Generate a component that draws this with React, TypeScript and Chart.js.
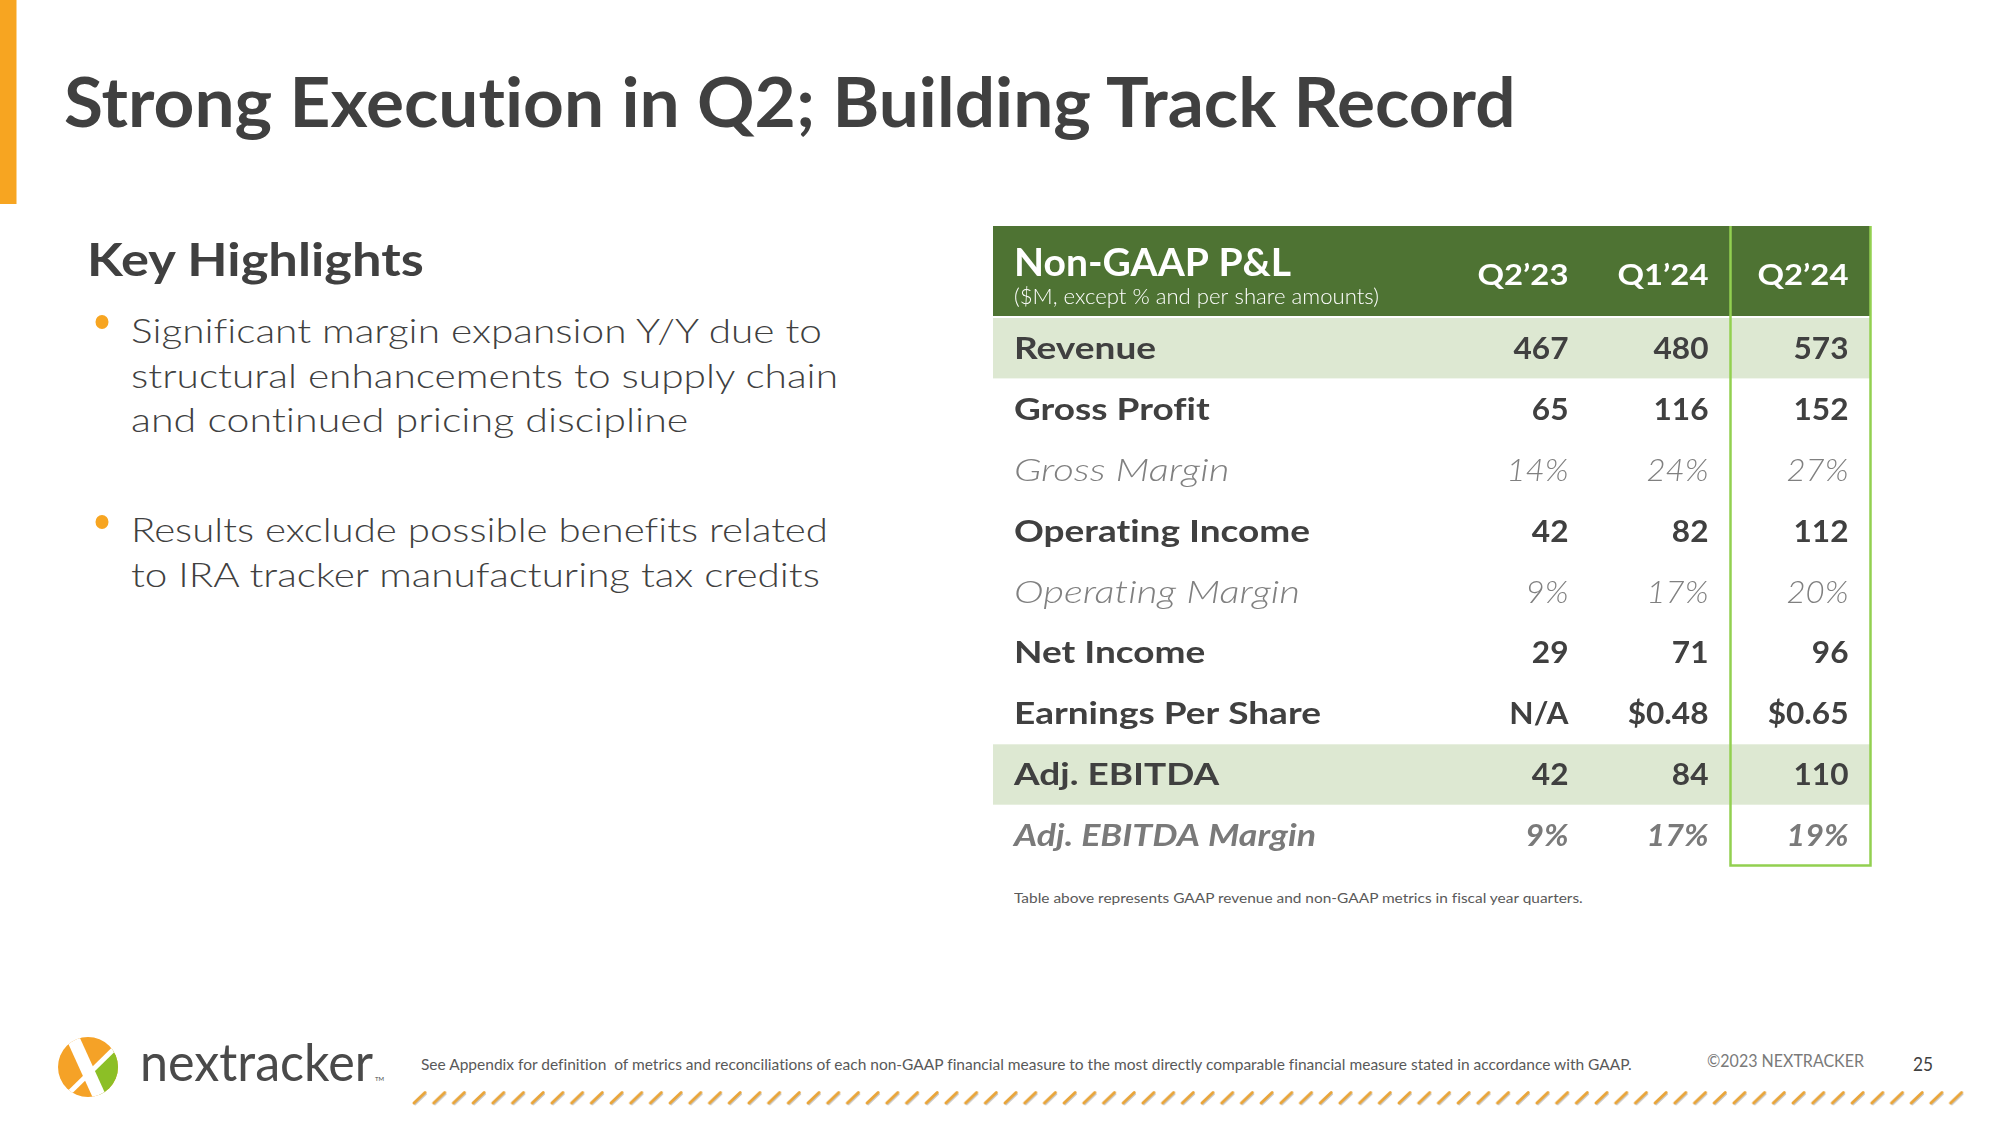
import React, { useEffect, useRef } from "react";
import { Chart, registerables } from "chart.js";

Chart.register(...registerables);

const FONT = 'Lato, "Open Sans", "DejaVu Sans", sans-serif';

// ---------- slide text ----------
const titleText = "Strong Execution in Q2; Building Track Record";
const highlightsHeading = "Key Highlights";
const bullet1Lines = [
  "Significant margin expansion Y/Y due to",
  "structural enhancements to supply chain",
  "and continued pricing discipline",
];
const bullet2Lines = [
  "Results exclude possible benefits related",
  "to IRA tracker manufacturing tax credits",
];
const tableTitle = "Non-GAAP P&L";
const tableSubtitle = "($M, except % and per share amounts)";
const footnoteText = "Table above represents GAAP revenue and non-GAAP metrics in fiscal year quarters.";
const disclaimerText =
  "See Appendix for definition  of metrics and reconciliations of each non-GAAP financial measure to the most directly comparable financial measure stated in accordance with GAAP.";
const copyrightText = "©2023 NEXTRACKER";
const pageNumber = "25";
const brandName = "nextracker";

// ---------- table data ----------
const quarters = ["Q2’23", "Q1’24", "Q2’24"];
const metrics = [
  "Revenue",
  "Gross Profit",
  "Gross Margin",
  "Operating Income",
  "Operating Margin",
  "Net Income",
  "Earnings Per Share",
  "Adj. EBITDA",
  "Adj. EBITDA Margin",
];
const metricKinds = ["num", "num", "pct", "num", "pct", "num", "eps", "num", "pct"];
const metricStyles = ["bold", "bold", "light", "bold", "light", "bold", "bold", "bold", "boldItalic"];
const shadedMetrics = ["Revenue", "Adj. EBITDA"];
const valuesQ223 = [467, 65, 14, 42, 9, 29, null, 42, 9];
const valuesQ124 = [480, 116, 24, 82, 17, 71, 0.48, 84, 17];
const valuesQ224 = [573, 152, 27, 112, 20, 96, 0.65, 110, 19];
const quarterValues = [valuesQ223, valuesQ124, valuesQ224];

// ---------- colours ----------
const DARK = "#404040";
const ORANGE = "#f7a521";
const HEADER_GREEN = "#4e7333";
const ROW_GREEN = "#dde8d2";
const BORDER_GREEN = "#92d050";

const CELL_STYLES: Record<string, any> = {
  bold: {
    font: `normal 700 31px ${FONT}`,
    color: DARK,
    labelSample: "Operating Income",
    labelWidth: 296,
    valueSample: "480",
    valueWidth: 55,
  },
  light: {
    font: `italic 300 31px ${FONT}`,
    color: "#808080",
    labelSample: "Operating Margin",
    labelWidth: 286,
    valueSample: "24%",
    valueWidth: 62,
  },
  boldItalic: {
    font: `italic 700 31px ${FONT}`,
    color: "#7a7a7a",
    labelSample: "Adj. EBITDA Margin",
    labelWidth: 302,
    valueSample: "17%",
    valueWidth: 62,
  },
};

function formatValue(v: number | null, kind: string) {
  if (v === null || v === undefined) return "N/A";
  if (kind === "pct") return `${v}%`;
  if (kind === "eps") return `$${v.toFixed(2)}`;
  return String(v);
}

let measureCtx: CanvasRenderingContext2D | null = null;
function measureText(font: string, text: string) {
  if (!measureCtx) measureCtx = document.createElement("canvas").getContext("2d");
  measureCtx!.font = font;
  const m = measureCtx!.measureText(text);
  return { w: m.width, asc: (m as any).fontBoundingBoxAscent, desc: (m as any).fontBoundingBoxDescent };
}

function Txt(props: {
  text: string;
  x: number;
  baseline: number;
  size: number;
  weight?: number;
  italic?: boolean;
  color?: string;
  width?: number;
}) {
  const { text, x, baseline, size, weight = 400, italic = false, color = DARK, width } = props;
  const font = `${italic ? "italic" : "normal"} ${weight} ${size}px ${FONT}`;
  const m = measureText(font, text);
  const asc = m.asc || size * 0.987;
  const desc = m.desc || size * 0.213;
  const sx = width && m.w ? width / m.w : 1;
  return (
    <div
      style={{
        position: "absolute",
        left: x,
        top: baseline - asc,
        fontFamily: FONT,
        fontSize: size,
        fontWeight: weight,
        fontStyle: italic ? "italic" : "normal",
        lineHeight: `${asc + desc}px`,
        height: asc + desc,
        color,
        whiteSpace: "pre",
        transform: `scaleX(${sx})`,
        transformOrigin: "0 0",
      }}
    >
      {text}
    </div>
  );
}

function fitScale(ctx: CanvasRenderingContext2D, font: string, sample: string, width: number) {
  ctx.save();
  ctx.font = font;
  const w = ctx.measureText(sample).width;
  ctx.restore();
  return w ? width / w : 1;
}

function drawScaled(
  ctx: CanvasRenderingContext2D,
  text: string,
  x: number,
  y: number,
  font: string,
  color: string,
  align: CanvasTextAlign,
  sx: number
) {
  ctx.save();
  ctx.font = font;
  ctx.fillStyle = color;
  ctx.textAlign = align;
  ctx.textBaseline = "alphabetic";
  ctx.translate(x, y);
  ctx.scale(sx, 1);
  ctx.fillText(text, 0, 0);
  ctx.restore();
}

const tablePlugin = {
  id: "pnlTable",
  afterDraw(chart: any) {
    const { ctx, chartArea, scales } = chart;
    const xs = scales.x;
    const ys = scales.y;
    const colW = (chartArea.right - chartArea.left) / quarters.length;
    const rowH = (chartArea.bottom - chartArea.top) / metrics.length;
    const labelX = 21;
    const valuePad = 22;

    ctx.save();
    // header band
    ctx.fillStyle = HEADER_GREEN;
    ctx.fillRect(0, 0, chartArea.right, chartArea.top - 1.5);

    // shaded rows
    metrics.forEach((m, i) => {
      if (!shadedMetrics.includes(m)) return;
      const cy = ys.getPixelForValue(i);
      ctx.fillStyle = ROW_GREEN;
      ctx.fillRect(0, cy - rowH / 2 + 0.5, chartArea.right, rowH - 0.5);
    });

    // header text
    const titleFont = `normal 700 38px ${FONT}`;
    drawScaled(ctx, tableTitle, labelX, 50, titleFont, "#ffffff", "left", fitScale(ctx, titleFont, tableTitle, 277));
    const subFont = `normal 300 21px ${FONT}`;
    drawScaled(ctx, tableSubtitle, labelX, 78, subFont, "#ffffff", "left", fitScale(ctx, subFont, tableSubtitle, 365));
    const qFont = `normal 700 29px ${FONT}`;
    const qScale = fitScale(ctx, qFont, "Q2’24", 91);
    quarters.forEach((q, c) => {
      const right = xs.getPixelForValue(c) + colW / 2 - valuePad;
      drawScaled(ctx, q, right, 59, qFont, "#ffffff", "right", qScale);
    });

    // body rows
    metrics.forEach((m, i) => {
      const st = CELL_STYLES[metricStyles[i]];
      const cy = ys.getPixelForValue(i);
      const base = cy + 11;
      const lScale = fitScale(ctx, st.font, st.labelSample, st.labelWidth);
      const vScale = fitScale(ctx, st.font, st.valueSample, st.valueWidth);
      drawScaled(ctx, m, labelX, base, st.font, st.color, "left", lScale);
      quarterValues.forEach((vals, c) => {
        const right = xs.getPixelForValue(c) + colW / 2 - valuePad;
        drawScaled(ctx, formatValue(vals[i] as any, metricKinds[i]), right, base, st.font, st.color, "right", vScale);
      });
    });

    // highlight border around latest quarter
    const hlLeft = xs.getPixelForValue(quarters.length - 1) - colW / 2;
    ctx.strokeStyle = BORDER_GREEN;
    ctx.lineWidth = 2.5;
    ctx.beginPath();
    ctx.moveTo(hlLeft, 0);
    ctx.lineTo(hlLeft, chartArea.bottom);
    ctx.lineTo(chartArea.right, chartArea.bottom);
    ctx.lineTo(chartArea.right, 0);
    ctx.stroke();
    ctx.restore();
  },
};

function PnlTable() {
  const ref = useRef<HTMLCanvasElement | null>(null);
  useEffect(() => {
    if (!ref.current) return;
    const chart = new Chart(ref.current, {
      type: "bar",
      data: { labels: quarters, datasets: [] },
      options: {
        responsive: false,
        animation: false,
        devicePixelRatio: 1,
        events: [],
        layout: { padding: { left: 457.5, right: 2.5, top: 91.5, bottom: 3.4 } },
        plugins: { legend: { display: false }, tooltip: { enabled: false } },
        scales: {
          x: { type: "category", offset: true, display: false },
          y: { type: "category", labels: metrics, offset: true, display: false },
        },
      } as any,
      plugins: [tablePlugin as any],
    });
    return () => chart.destroy();
  }, []);
  return (
    <canvas
      ref={ref}
      width={880}
      height={643}
      style={{ position: "absolute", left: 993, top: 226, width: 880, height: 643 }}
    />
  );
}

export default function App() {
  const b1Widths = [693, 708, 558];
  const b2Widths = [696, 691];
  const b1Base = [343, 387.5, 432];
  const b2Base = [542, 587];
  return (
    <div
      style={{
        position: "absolute",
        left: 0,
        top: 0,
        width: 2000,
        height: 1125,
        background: "#ffffff",
        overflow: "hidden",
        fontFamily: FONT,
        fontVariantLigatures: "none",
      }}
    >
      <svg
        width={2000}
        height={1125}
        style={{ position: "absolute", left: 0, top: 0 }}
        viewBox="0 0 2000 1125"
      >
        <defs>
          <clipPath id="logoClip">
            <circle cx={88} cy={1067} r={30} />
          </clipPath>
          <pattern id="dashPat" x={411} y={1090} width={19.7} height={16} patternUnits="userSpaceOnUse">
            <line x1={4} y1={14.5} x2={15} y2={4} stroke="#c9c9c9" strokeWidth={1.8} strokeLinecap="round" />
            <line x1={3} y1={13} x2={14} y2={2.5} stroke="#e9a53a" strokeWidth={3} strokeLinecap="round" />
          </pattern>
        </defs>
        {/* orange side bar */}
        <rect x={0} y={0} width={16.5} height={204} fill={ORANGE} />
        {/* bullet dots */}
        <ellipse cx={102} cy={322} rx={6.5} ry={7} fill={ORANGE} />
        <ellipse cx={102} cy={522} rx={6.5} ry={7} fill={ORANGE} />
        {/* logo */}
        <g clipPath="url(#logoClip)">
          <rect x={50} y={1030} width={80} height={80} fill="#f5a227" />
          <polygon points="89,1073 128,1034 128,1104 103,1104" fill="#8cbf26" />
          <line x1={71} y1={1034} x2={101} y2={1100} stroke="#ffffff" strokeWidth={13} />
          <line x1={68} y1={1094} x2={118} y2={1045} stroke="#ffffff" strokeWidth={5} />
        </g>
        {/* dashed stitching line */}
        <rect x={411} y={1090} width={1556} height={16} fill="url(#dashPat)" />
      </svg>

      <Txt text={titleText} x={64} baseline={127} size={68} weight={700} width={1455} />
      <Txt text={highlightsHeading} x={87} baseline={276} size={46} weight={700} width={338} />
      {bullet1Lines.map((t, i) => (
        <Txt key={"b1" + i} text={t} x={131} baseline={b1Base[i]} size={33.5} weight={300} width={b1Widths[i]} />
      ))}
      {bullet2Lines.map((t, i) => (
        <Txt key={"b2" + i} text={t} x={131} baseline={b2Base[i]} size={33.5} weight={300} width={b2Widths[i]} />
      ))}

      <PnlTable />

      <Txt text={footnoteText} x={1014} baseline={903} size={14} weight={400} color="#595959" width={570} />

      <Txt text={brandName} x={140} baseline={1081} size={52} weight={400} color="#4a4a4a" width={233} />
      <Txt text="TM" x={375} baseline={1081} size={6} weight={400} color="#4a4a4a" />
      <Txt text={disclaimerText} x={421} baseline={1070} size={15} weight={400} color="#595959" width={1213} />
      <Txt text={copyrightText} x={1707} baseline={1067} size={17} weight={400} color="#7a7a7a" width={157} />
      <Txt text={pageNumber} x={1913} baseline={1071} size={20} weight={400} color={DARK} width={20} />
    </div>
  );
}
